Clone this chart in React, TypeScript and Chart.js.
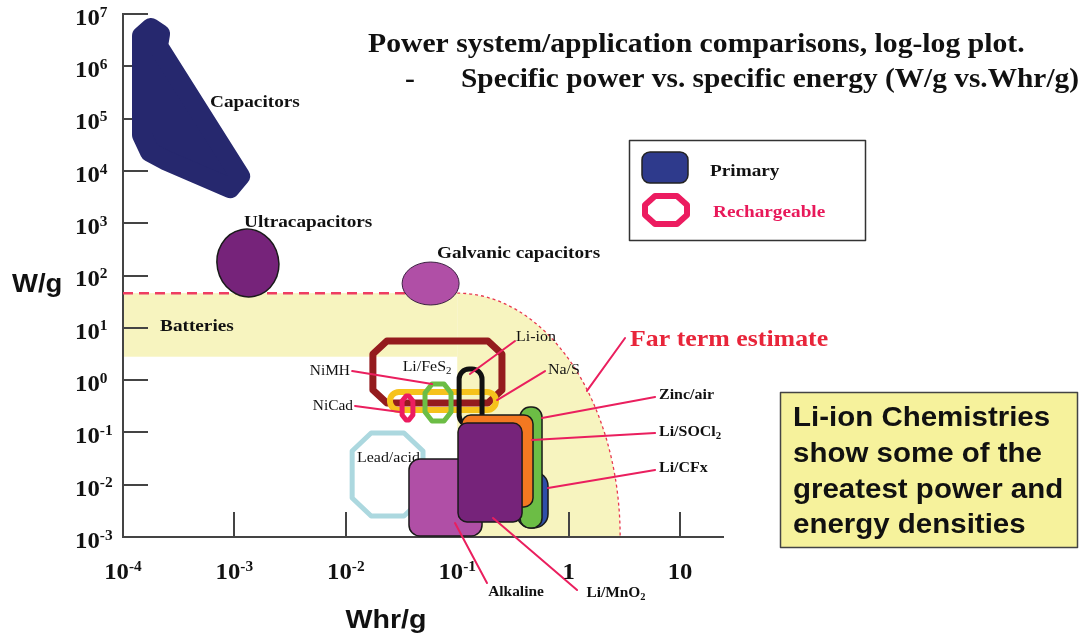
import React, { useEffect, useRef } from "react";
import { Chart, registerables } from "chart.js";

Chart.register(...registerables);

// ---------- axes ----------
const X_MIN = 1e-4;
const X_MAX = 24.3;
const Y_MIN = 1e-3;
const Y_MAX = 1e7;
const X_TICKS = [1e-4, 1e-3, 1e-2, 1e-1, 1, 10];
const X_TICK_BASE = ["10", "10", "10", "10", "1", "10"];
const X_TICK_EXP = ["-4", "-3", "-2", "-1", "", ""];
const Y_TICKS = [1e-3, 1e-2, 1e-1, 1, 10, 100, 1e3, 1e4, 1e5, 1e6, 1e7];
const Y_TICK_BASE = ["10", "10", "10", "10", "10", "10", "10", "10", "10", "10", "10"];
const Y_TICK_EXP = ["-3", "-2", "-1", "0", "1", "2", "3", "4", "5", "6", "7"];

// ---------- regions (specific energy Whr/g, specific power W/g) ----------
const CATEGORIES = [
  "Ultracapacitors", "Galvanic capacitors", "Li/FeS2", "Na/S", "NiCad", "NiMH", "Li-ion",
  "Lead/acid", "Alkaline", "Li/CFx", "Zinc/air", "Li/SOCl2", "Li/MnO2",
];
const E_MIN = [6.98e-4, 0.032, 0.0175, 0.0249, 0.032, 0.0514, 0.104, 0.0114, 0.0369, 0.344, 0.366, 0.11, 0.1017];
const E_MAX = [2.5e-3, 0.104, 0.252, 0.223, 0.04, 0.088, 0.167, 0.0493, 0.167, 0.653, 0.577, 0.479, 0.382];
const P_MIN = [38.8, 27.3, 0.365, 0.268, 0.173, 0.165, 0.138, 0.00252, 0.00105, 0.00149, 0.00149, 0.00375, 0.00194];
const P_MAX = [774, 181, 5.6, 0.59, 0.497, 0.84, 1.63, 0.0975, 0.031, 0.0175, 0.306, 0.215, 0.151];

// Capacitors region outline (Whr/g, W/g)
const CAP_E = [1.481e-4, 1.784e-4, 2.149e-4, 2.062e-4, 1.123e-3, 9.13e-4, 2.382e-4, 1.747e-4, 1.481e-4];
const CAP_P = [3.796e6, 5.4e6, 4.146e6, 2.444e6, 7.99e3, 4.71e3, 1.616e4, 2.3e4, 4.86e4];

// Batteries band and far-term estimate envelope
const BATT_E = [1e-4, 0.1];
const BATT_P = [2.8, 46];
const FAR_E = [0.1, 2.9];
const FAR_P = [1e-3, 46];

// ---------- styling ----------
type Sty = { kind: string; fill?: string; stroke: string; lw: number; r?: number; cx?: number; cy?: number; rot?: number };
const STYLE: Record<string, Sty> = {
  "Ultracapacitors": { kind: "ellipse", fill: "#76237a", stroke: "#1a1a1a", lw: 1.5, rot: -0.2 },
  "Galvanic capacitors": { kind: "ellipse", fill: "#b04fa6", stroke: "#3a2040", lw: 1 },
  "Li/FeS2": { kind: "oct", stroke: "#941b1e", lw: 7, cx: 14, cy: 13 },
  "Na/S": { kind: "round", stroke: "#f6c21c", lw: 6, r: 9 },
  "NiCad": { kind: "oct", stroke: "#ec1c60", lw: 5, cx: 4, cy: 5 },
  "NiMH": { kind: "oct", stroke: "#6cbd45", lw: 5, cx: 7, cy: 9 },
  "Li-ion": { kind: "round", stroke: "#111111", lw: 5, r: 10 },
  "Lead/acid": { kind: "oct", stroke: "#acd8df", lw: 5, cx: 19, cy: 18 },
  "Alkaline": { kind: "round", fill: "#b04fa6", stroke: "#1a1a1a", lw: 1.5, r: 11 },
  "Li/CFx": { kind: "round", fill: "#2f4fa8", stroke: "#1a1a1a", lw: 1.5, r: 14 },
  "Zinc/air": { kind: "round", fill: "#6cbd45", stroke: "#1a1a1a", lw: 1.5, r: 10 },
  "Li/SOCl2": { kind: "round", fill: "#f37821", stroke: "#1a1a1a", lw: 1.5, r: 9 },
  "Li/MnO2": { kind: "round", fill: "#76237a", stroke: "#1a1a1a", lw: 1.5, r: 9 },
};

const SERIF = "'Liberation Serif', 'Times New Roman', serif";
const SANS = "'Liberation Sans', Arial, sans-serif";
const SX = 1.1;
const PINK = "#ea1f5e";
const INK = "#111111";

// annotation labels anchored in data coordinates
type Lab = { t: string; sub?: string; e: number; p: number; al: string; b: boolean; s: number; c?: string };
const LABELS: Lab[] = [
  { t: "Capacitors", e: 6.04e-4, p: 2.07e5, al: "left", b: true, s: 17.5 },
  { t: "Ultracapacitors", e: 1.22e-3, p: 1054, al: "left", b: true, s: 17.5 },
  { t: "Galvanic capacitors", e: 0.0659, p: 269, al: "left", b: true, s: 17.5 },
  { t: "Batteries", e: 2.15e-4, p: 10.8, al: "left", b: true, s: 17.5 },
  { t: "Far term estimate", e: 3.56, p: 5.85, al: "left", b: true, s: 23.5, c: "#e8253a" },
  { t: "Li/FeS", sub: "2", e: 0.0536, p: 1.78, al: "center", b: false, s: 14.5 },
  { t: "NiMH", e: 0.0109, p: 1.49, al: "right", b: false, s: 14 },
  { t: "NiCad", e: 0.0116, p: 0.32, al: "right", b: false, s: 14 },
  { t: "Li-ion", e: 0.337, p: 6.67, al: "left", b: false, s: 14.5 },
  { t: "Na/S", e: 0.653, p: 1.56, al: "left", b: false, s: 14.5 },
  { t: "Zinc/air", e: 6.48, p: 0.519, al: "left", b: true, s: 14.5 },
  { t: "Li/SOCl", sub: "2", e: 6.48, p: 0.102, al: "left", b: true, s: 14.5 },
  { t: "Li/CFx", e: 6.48, p: 0.0208, al: "left", b: true, s: 14.5 },
  { t: "Alkaline", e: 0.337, p: 8.87e-5, al: "center", b: true, s: 14 },
  { t: "Li/MnO", sub: "2", e: 2.66, p: 8.49e-5, al: "center", b: true, s: 14 },
];
const LEAD_LABEL: Lab = { t: "Lead/acid", e: 0.0126, p: 0.0324, al: "left", b: false, s: 14.5 };

// leader lines [e1, p1, e2, p2]
const LEADERS: number[][] = [
  [0.33, 5.6, 0.13, 1.31],
  [0.614, 1.49, 0.228, 0.416],
  [0.0114, 1.49, 0.0594, 0.841],
  [0.0121, 0.32, 0.0307, 0.245],
  [3.21, 6.38, 1.46, 0.62],
  [5.97, 0.475, 0.577, 0.188],
  [5.97, 0.0975, 0.469, 0.0716],
  [5.97, 0.0191, 0.653, 0.00865],
  [0.185, 1.32e-4, 0.0955, 0.00185],
  [1.19, 9.7e-5, 0.2096, 0.00231],
];

const BOX_LINES = ["Li-ion Chemistries", "show some of the", "greatest power and", "energy densities"];

// ---------- drawing helpers ----------
type Part = { t: string; size: number; dy: number };
function rich(ctx: CanvasRenderingContext2D, parts: Part[], x: number, y: number, align: string, bold: boolean, color: string, family = SERIF, sx = SX) {
  ctx.save();
  ctx.fillStyle = color;
  ctx.textBaseline = "middle";
  ctx.textAlign = "left";
  const w = parts.map((pt) => {
    ctx.font = `${bold ? "bold " : ""}${pt.size}px ${family}`;
    return ctx.measureText(pt.t).width * sx;
  });
  const total = w.reduce((a, b) => a + b, 0);
  let cx = align === "left" ? x : align === "center" ? x - total / 2 : x - total;
  parts.forEach((pt, i) => {
    ctx.font = `${bold ? "bold " : ""}${pt.size}px ${family}`;
    ctx.save();
    ctx.translate(cx, y + pt.dy);
    ctx.scale(sx, 1);
    ctx.fillText(pt.t, 0, 0);
    ctx.restore();
    cx += w[i];
  });
  ctx.restore();
}

function octPath(ctx: CanvasRenderingContext2D, x1: number, y1: number, x2: number, y2: number, cx: number, cy: number) {
  ctx.beginPath();
  ctx.moveTo(x1 + cx, y1);
  ctx.lineTo(x2 - cx, y1);
  ctx.lineTo(x2, y1 + cy);
  ctx.lineTo(x2, y2 - cy);
  ctx.lineTo(x2 - cx, y2);
  ctx.lineTo(x1 + cx, y2);
  ctx.lineTo(x1, y2 - cy);
  ctx.lineTo(x1, y1 + cy);
  ctx.closePath();
}

function drawLabel(ctx: CanvasRenderingContext2D, L: Lab, X: (v: number) => number, Y: (v: number) => number) {
  const parts: Part[] = [{ t: L.t, size: L.s, dy: 0 }];
  if (L.sub) parts.push({ t: L.sub, size: L.s * 0.68, dy: L.s * 0.3 });
  rich(ctx, parts, X(L.e), Y(L.p), L.al, L.b, L.c || INK);
}

const chartPlugin = {
  id: "powerEnergy",
  beforeDraw(chart: any) {
    const ctx: CanvasRenderingContext2D = chart.ctx;
    const X = (v: number) => chart.scales.x.getPixelForValue(v);
    const Y = (v: number) => chart.scales.y.getPixelForValue(v);
    ctx.save();
    // batteries band
    ctx.fillStyle = "#f7f4bf";
    ctx.fillRect(X(BATT_E[0]), Y(BATT_P[1]), X(BATT_E[1]) - X(BATT_E[0]), Y(BATT_P[0]) - Y(BATT_P[1]));
    // far term envelope
    const cx = X(FAR_E[0]);
    const cy = Y(FAR_P[0]);
    const rx = X(FAR_E[1]) - cx;
    const ry = cy - Y(FAR_P[1]);
    ctx.beginPath();
    ctx.moveTo(cx, cy);
    ctx.lineTo(cx, cy - ry);
    ctx.ellipse(cx, cy, rx, ry, 0, -Math.PI / 2, 0);
    ctx.closePath();
    ctx.fill();
    ctx.restore();
  },
  afterDatasetsDraw(chart: any) {
    const ctx: CanvasRenderingContext2D = chart.ctx;
    const X = (v: number) => chart.scales.x.getPixelForValue(v);
    const Y = (v: number) => chart.scales.y.getPixelForValue(v);
    const area = chart.chartArea;
    ctx.save();

    // dashed envelope
    const cx = X(FAR_E[0]);
    const cy = Y(FAR_P[0]);
    const rx = X(FAR_E[1]) - cx;
    const ry = cy - Y(FAR_P[1]);
    ctx.strokeStyle = "#ee3d62";
    ctx.lineWidth = 2.5;
    ctx.setLineDash([10, 6]);
    ctx.beginPath();
    ctx.moveTo(X(BATT_E[0]), Y(BATT_P[1]));
    ctx.lineTo(cx, Y(BATT_P[1]));
    ctx.stroke();
    ctx.lineWidth = 1.3;
    ctx.strokeStyle = "#e8384f";
    ctx.setLineDash([3, 3]);
    ctx.beginPath();
    ctx.ellipse(cx, cy, rx, ry, 0, -Math.PI / 2, 0);
    ctx.stroke();
    ctx.setLineDash([]);

    // ticks (inward)
    ctx.strokeStyle = "#444";
    ctx.lineWidth = 2;
    chart.scales.y.ticks.forEach((t: any, i: number) => {
      if (i === 0) return;
      const y = Math.round(Y(t.value));
      ctx.beginPath();
      ctx.moveTo(area.left, y);
      ctx.lineTo(area.left + 25, y);
      ctx.stroke();
    });
    chart.scales.x.ticks.forEach((t: any, i: number) => {
      if (i === 0) return;
      const x = Math.round(X(t.value));
      ctx.beginPath();
      ctx.moveTo(x, area.bottom);
      ctx.lineTo(x, area.bottom - 25);
      ctx.stroke();
    });

    // capacitors
    ctx.fillStyle = "#26286e";
    ctx.strokeStyle = "#26286e";
    ctx.lineWidth = 20;
    ctx.lineJoin = "round";
    ctx.beginPath();
    CAP_E.forEach((e, i) => (i === 0 ? ctx.moveTo(X(e), Y(CAP_P[i])) : ctx.lineTo(X(e), Y(CAP_P[i]))));
    ctx.closePath();
    ctx.fill();
    ctx.stroke();
    ctx.lineJoin = "miter";

    const drawShape = (name: string) => {
      const i = CATEGORIES.indexOf(name);
      const s = STYLE[name];
      const x1 = X(E_MIN[i]);
      const x2 = X(E_MAX[i]);
      const y1 = Y(P_MAX[i]);
      const y2 = Y(P_MIN[i]);
      ctx.beginPath();
      if (s.kind === "ellipse") {
        ctx.ellipse((x1 + x2) / 2, (y1 + y2) / 2, (x2 - x1) / 2, (y2 - y1) / 2, s.rot || 0, 0, Math.PI * 2);
      } else if (s.kind === "oct") {
        octPath(ctx, x1, y1, x2, y2, s.cx || 0, s.cy || 0);
      } else {
        (ctx as any).roundRect(x1, y1, x2 - x1, y2 - y1, s.r || 0);
      }
      if (s.fill) {
        ctx.fillStyle = s.fill;
        ctx.fill();
      }
      ctx.strokeStyle = s.stroke;
      ctx.lineWidth = s.lw;
      ctx.lineJoin = "round";
      ctx.stroke();
    };

    ["Ultracapacitors", "Galvanic capacitors", "Li/FeS2", "Na/S", "NiCad", "NiMH", "Li-ion", "Lead/acid"].forEach(drawShape);
    drawLabel(ctx, LEAD_LABEL, X, Y);
    ["Alkaline", "Li/CFx", "Zinc/air", "Li/SOCl2", "Li/MnO2"].forEach(drawShape);

    // leader lines
    ctx.strokeStyle = PINK;
    ctx.lineWidth = 2;
    ctx.lineCap = "round";
    LEADERS.forEach((l) => {
      ctx.beginPath();
      ctx.moveTo(X(l[0]), Y(l[1]));
      ctx.lineTo(X(l[2]), Y(l[3]));
      ctx.stroke();
    });

    LABELS.forEach((L) => drawLabel(ctx, L, X, Y));

    // tick labels
    chart.scales.y.ticks.forEach((t: any, i: number) => {
      rich(ctx, [
        { t: Y_TICK_BASE[i], size: 22.5, dy: 0 },
        { t: Y_TICK_EXP[i], size: 14, dy: -6 },
      ], area.left - 48, Y(t.value) + 5, "left", true, INK);
    });
    chart.scales.x.ticks.forEach((t: any, i: number) => {
      const parts: Part[] = [{ t: X_TICK_BASE[i], size: 22.5, dy: 0 }];
      if (X_TICK_EXP[i]) parts.push({ t: X_TICK_EXP[i], size: 14, dy: -6 });
      rich(ctx, parts, X(t.value), area.bottom + 36, "center", true, INK);
    });

    // axis titles
    rich(ctx, [{ t: "W/g", size: 25, dy: 0 }], 12, 285, "left", true, INK, SANS);
    rich(ctx, [{ t: "Whr/g", size: 26, dy: 0 }], 386, 621, "center", true, INK, SANS);

    // title
    rich(ctx, [{ t: "Power system/application comparisons, log-log plot.", size: 27, dy: 0 }], 368, 45, "left", true, INK);
    rich(ctx, [{ t: "-", size: 27, dy: 0 }], 405, 80, "left", true, INK);
    rich(ctx, [{ t: "Specific power vs. specific energy (W/g vs.Whr/g)", size: 26.7, dy: 0 }], 461, 80, "left", true, INK);

    // legend box
    ctx.strokeStyle = "#333";
    ctx.lineWidth = 1.5;
    ctx.strokeRect(629.5, 140.5, 236, 100);
    ctx.beginPath();
    (ctx as any).roundRect(642, 152, 46, 31, 8);
    ctx.fillStyle = "#2e3a8c";
    ctx.fill();
    ctx.strokeStyle = "#222";
    ctx.lineWidth = 1.5;
    ctx.stroke();
    octPath(ctx, 645, 196, 687, 224, 10, 9);
    ctx.strokeStyle = "#ec1c60";
    ctx.lineWidth = 6;
    ctx.stroke();
    rich(ctx, [{ t: "Primary", size: 17.5, dy: 0 }], 710, 171, "left", true, INK);
    rich(ctx, [{ t: "Rechargeable", size: 17.5, dy: 0 }], 713, 212, "left", true, "#e8195a");

    // note box
    ctx.fillStyle = "#f6f29c";
    ctx.fillRect(780, 392, 298, 156);
    ctx.strokeStyle = "#444";
    ctx.lineWidth = 1.5;
    ctx.strokeRect(780.5, 392.5, 297, 155);
    const ys = [419, 455, 491, 526];
    BOX_LINES.forEach((s, i) => rich(ctx, [{ t: s, size: 26.8, dy: 0 }], 793, ys[i], "left", true, INK, SANS));

    ctx.restore();
  },
};

export default function App() {
  const ref = useRef<HTMLCanvasElement>(null);
  useEffect(() => {
    const datasets = CATEGORIES.map((name, i) => ({
      label: name,
      data: [
        { x: E_MIN[i], y: P_MIN[i] },
        { x: E_MAX[i], y: P_MAX[i] },
      ],
      pointRadius: 0,
      showLine: false,
    }));
    const chart = new Chart(ref.current as HTMLCanvasElement, {
      type: "scatter",
      data: { datasets },
      options: {
        responsive: false,
        animation: false,
        events: [],
        layout: { padding: { left: 0, top: 14, right: 361, bottom: 0 } },
        plugins: { legend: { display: false }, tooltip: { enabled: false }, title: { display: false } },
        scales: {
          x: {
            type: "logarithmic",
            min: X_MIN,
            max: X_MAX,
            grid: { display: false },
            border: { display: true, color: "#444", width: 2 },
            ticks: { display: false },
            afterBuildTicks: (s: any) => {
              s.ticks = X_TICKS.map((v) => ({ value: v }));
            },
            afterFit: (s: any) => {
              s.height = 100;
            },
          },
          y: {
            type: "logarithmic",
            min: Y_MIN,
            max: Y_MAX,
            grid: { display: false },
            border: { display: true, color: "#444", width: 2 },
            ticks: { display: false },
            afterBuildTicks: (s: any) => {
              s.ticks = Y_TICKS.map((v) => ({ value: v }));
            },
            afterFit: (s: any) => {
              s.width = 123;
            },
          },
        },
      } as any,
      plugins: [chartPlugin],
    });
    return () => chart.destroy();
  }, []);
  return (
    <div style={{ position: "fixed", left: 0, top: 0, width: 1084, height: 637, background: "#fff" }}>
      <canvas ref={ref} width={1084} height={637} style={{ display: "block" }} />
    </div>
  );
}
